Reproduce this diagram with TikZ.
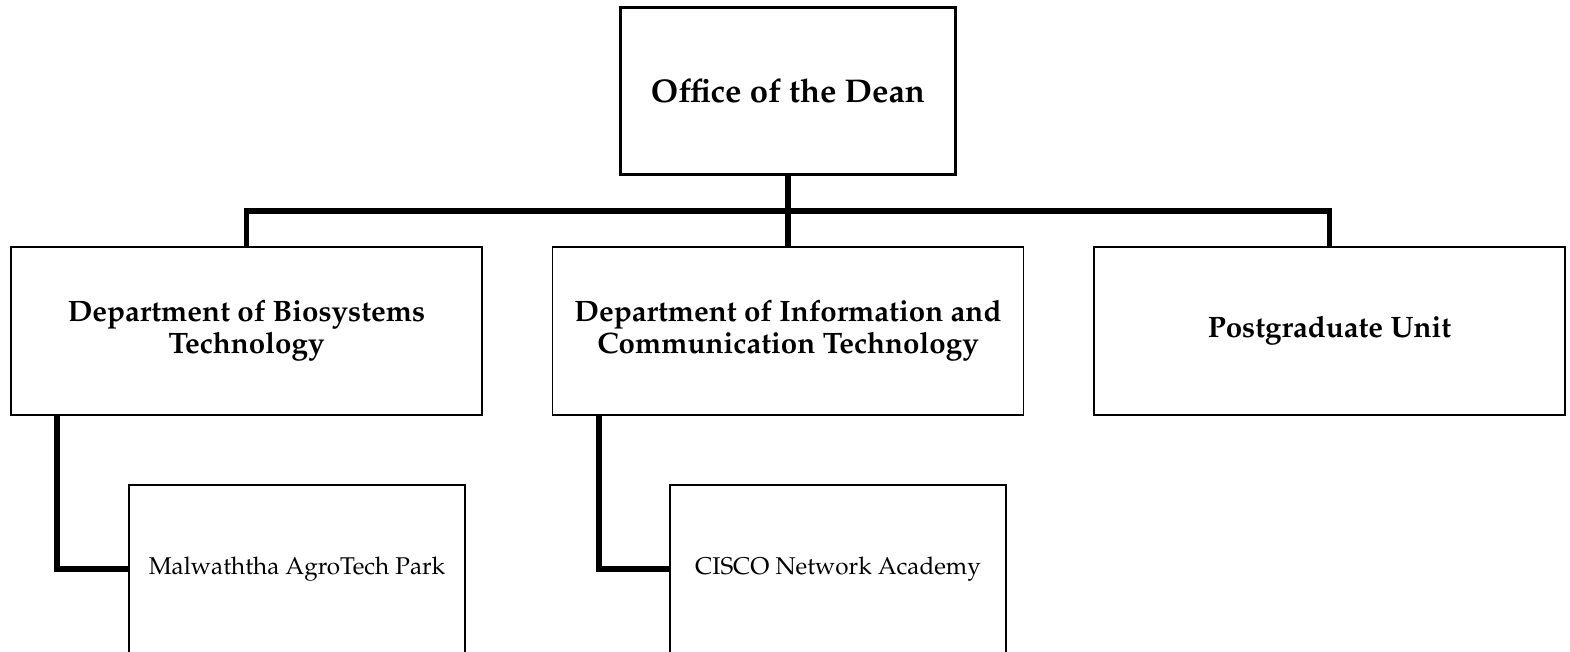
\documentclass[tikz,border=0pt]{standalone}
\usepackage[T1]{fontenc}
\usepackage{mathpazo}
\usetikzlibrary{positioning}
\tikzset{
 unit/.style={draw, line width=1pt, minimum width=9.42cm, minimum height=3.36cm, inner sep=0pt, align=center, font=\bfseries\fontsize{16.8}{18.2}\selectfont},
 dean/.style={unit, line width=1.7pt, minimum width=6.72cm, font=\bfseries\fontsize{18.7}{20}\selectfont},
 subunit/.style={draw, line width=1pt, minimum width=6.72cm, minimum height=3.36cm, inner sep=0pt, font=\fontsize{13.8}{15}\selectfont},
 link/.style={line width=3.3pt}
}
\begin{document}
\begin{tikzpicture}[x=0.02cm,y=-0.02cm]
 \useasboundingbox (0,0) rectangle (1570,652);
 \node[dean] (dean) at (788,91) {Office of the Dean};
 \node[unit] (bio) at (246.5,331) {Department of Biosystems\\Technology};
 \node[unit] (ict) at (788,331) {Department of Information and\\Communication Technology};
 \node[unit] (pgu) at (1329.5,331) {Postgraduate Unit};
 \node[subunit] (park) at (297,569) {Malwaththa AgroTech Park};
 \node[subunit] (cisco) at (838,569) {CISCO Network Academy};
 \coordinate (bar) at (788,211);
 % tree lines
 \draw[link] (dean.south) -- (ict.north);
 \draw[link] (bio.north) |- (bar) -| (pgu.north);
 \draw[link] (bio.south west) ++(47,0) |- (park.west);
 \draw[link] (ict.south west) ++(47,0) |- (cisco.west);
\end{tikzpicture}
\end{document}
